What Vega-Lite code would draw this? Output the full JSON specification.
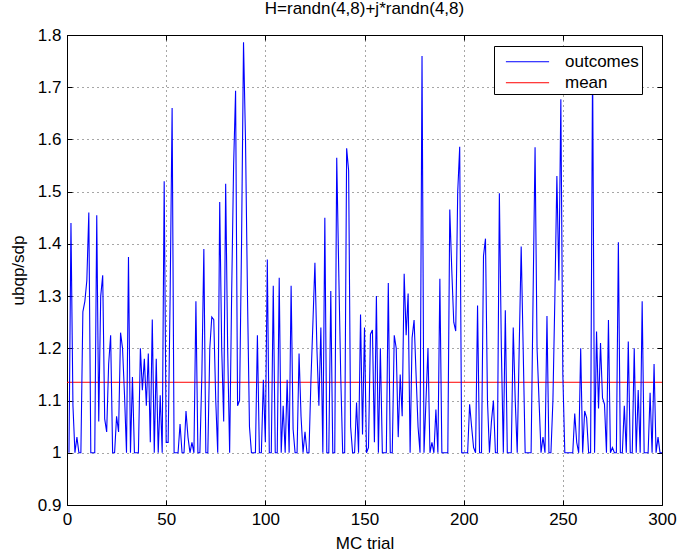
{
  "$schema": "https://vega.github.io/schema/vega-lite/v6.json",
  "autosize": {"type": "none"},
  "padding": {"left": 67, "top": 35, "right": 19, "bottom": 53},
  "width": 595,
  "height": 470,
  "background": "white",
  "title": {"text": "H=randn(4,8)+j*randn(4,8)", "font": "Liberation Sans", "fontSize": 17, "fontWeight": "normal", "color": "black", "offset": 8},
  "datasets": {
    "trials": [
      {"trial": 1, "ratio": 1.0}, {"trial": 2, "ratio": 1.44}, {"trial": 3, "ratio": 1.09}, {"trial": 4, "ratio": 1.0}, {"trial": 5, "ratio": 1.03},
      {"trial": 6, "ratio": 1.0}, {"trial": 7, "ratio": 1.0}, {"trial": 8, "ratio": 1.27}, {"trial": 9, "ratio": 1.29}, {"trial": 10, "ratio": 1.33},
      {"trial": 11, "ratio": 1.46}, {"trial": 12, "ratio": 1.0}, {"trial": 13, "ratio": 1.0}, {"trial": 14, "ratio": 1.0}, {"trial": 15, "ratio": 1.455},
      {"trial": 16, "ratio": 1.06}, {"trial": 17, "ratio": 1.3}, {"trial": 18, "ratio": 1.34}, {"trial": 19, "ratio": 1.065}, {"trial": 20, "ratio": 1.04},
      {"trial": 21, "ratio": 1.17}, {"trial": 22, "ratio": 1.225}, {"trial": 23, "ratio": 1.0}, {"trial": 24, "ratio": 1.0}, {"trial": 25, "ratio": 1.07},
      {"trial": 26, "ratio": 1.04}, {"trial": 27, "ratio": 1.23}, {"trial": 28, "ratio": 1.2}, {"trial": 29, "ratio": 1.11}, {"trial": 30, "ratio": 1.0},
      {"trial": 31, "ratio": 1.375}, {"trial": 32, "ratio": 1.0}, {"trial": 33, "ratio": 1.145}, {"trial": 34, "ratio": 1.0}, {"trial": 35, "ratio": 1.0},
      {"trial": 36, "ratio": 1.0}, {"trial": 37, "ratio": 1.2}, {"trial": 38, "ratio": 1.12}, {"trial": 39, "ratio": 1.18}, {"trial": 40, "ratio": 1.09},
      {"trial": 41, "ratio": 1.19}, {"trial": 42, "ratio": 1.02}, {"trial": 43, "ratio": 1.255}, {"trial": 44, "ratio": 1.0}, {"trial": 45, "ratio": 1.18},
      {"trial": 46, "ratio": 1.0}, {"trial": 47, "ratio": 1.11}, {"trial": 48, "ratio": 1.0}, {"trial": 49, "ratio": 1.52}, {"trial": 50, "ratio": 1.02},
      {"trial": 51, "ratio": 1.02}, {"trial": 52, "ratio": 1.3}, {"trial": 53, "ratio": 1.66}, {"trial": 54, "ratio": 1.0}, {"trial": 55, "ratio": 1.0},
      {"trial": 56, "ratio": 1.0}, {"trial": 57, "ratio": 1.055}, {"trial": 58, "ratio": 1.0}, {"trial": 59, "ratio": 1.0}, {"trial": 60, "ratio": 1.08},
      {"trial": 61, "ratio": 1.03}, {"trial": 62, "ratio": 1.0}, {"trial": 63, "ratio": 1.02}, {"trial": 64, "ratio": 1.0}, {"trial": 65, "ratio": 1.29},
      {"trial": 66, "ratio": 1.0}, {"trial": 67, "ratio": 1.0}, {"trial": 68, "ratio": 1.15}, {"trial": 69, "ratio": 1.39}, {"trial": 70, "ratio": 1.0},
      {"trial": 71, "ratio": 1.0}, {"trial": 72, "ratio": 1.2}, {"trial": 73, "ratio": 1.26}, {"trial": 74, "ratio": 1.255}, {"trial": 75, "ratio": 1.1},
      {"trial": 76, "ratio": 1.0}, {"trial": 77, "ratio": 1.48}, {"trial": 78, "ratio": 1.2}, {"trial": 79, "ratio": 1.06}, {"trial": 80, "ratio": 1.515},
      {"trial": 81, "ratio": 1.2}, {"trial": 82, "ratio": 1.0}, {"trial": 83, "ratio": 1.3}, {"trial": 84, "ratio": 1.55}, {"trial": 85, "ratio": 1.693},
      {"trial": 86, "ratio": 1.09}, {"trial": 87, "ratio": 1.1}, {"trial": 88, "ratio": 1.4}, {"trial": 89, "ratio": 1.786}, {"trial": 90, "ratio": 1.6},
      {"trial": 91, "ratio": 1.3}, {"trial": 92, "ratio": 1.05}, {"trial": 93, "ratio": 1.0}, {"trial": 94, "ratio": 1.0}, {"trial": 95, "ratio": 1.0},
      {"trial": 96, "ratio": 1.225}, {"trial": 97, "ratio": 1.0}, {"trial": 98, "ratio": 1.0}, {"trial": 99, "ratio": 1.14}, {"trial": 100, "ratio": 1.02},
      {"trial": 101, "ratio": 1.37}, {"trial": 102, "ratio": 1.0}, {"trial": 103, "ratio": 1.0}, {"trial": 104, "ratio": 1.32}, {"trial": 105, "ratio": 1.0},
      {"trial": 106, "ratio": 1.0}, {"trial": 107, "ratio": 1.335}, {"trial": 108, "ratio": 1.0}, {"trial": 109, "ratio": 1.09}, {"trial": 110, "ratio": 1.0},
      {"trial": 111, "ratio": 1.14}, {"trial": 112, "ratio": 1.0}, {"trial": 113, "ratio": 1.32}, {"trial": 114, "ratio": 1.045}, {"trial": 115, "ratio": 1.0},
      {"trial": 116, "ratio": 1.0}, {"trial": 117, "ratio": 1.19}, {"trial": 118, "ratio": 1.07}, {"trial": 119, "ratio": 1.0}, {"trial": 120, "ratio": 1.04},
      {"trial": 121, "ratio": 1.0}, {"trial": 122, "ratio": 1.0}, {"trial": 123, "ratio": 1.14}, {"trial": 124, "ratio": 1.25}, {"trial": 125, "ratio": 1.364},
      {"trial": 126, "ratio": 1.2}, {"trial": 127, "ratio": 1.09}, {"trial": 128, "ratio": 1.24}, {"trial": 129, "ratio": 1.0}, {"trial": 130, "ratio": 1.45},
      {"trial": 131, "ratio": 1.0}, {"trial": 132, "ratio": 1.0}, {"trial": 133, "ratio": 1.31}, {"trial": 134, "ratio": 1.0}, {"trial": 135, "ratio": 1.0},
      {"trial": 136, "ratio": 1.565}, {"trial": 137, "ratio": 1.35}, {"trial": 138, "ratio": 1.15}, {"trial": 139, "ratio": 1.0}, {"trial": 140, "ratio": 1.0},
      {"trial": 141, "ratio": 1.583}, {"trial": 142, "ratio": 1.54}, {"trial": 143, "ratio": 1.05}, {"trial": 144, "ratio": 1.0}, {"trial": 145, "ratio": 1.0},
      {"trial": 146, "ratio": 1.096}, {"trial": 147, "ratio": 1.0}, {"trial": 148, "ratio": 1.265}, {"trial": 149, "ratio": 1.035}, {"trial": 150, "ratio": 1.24},
      {"trial": 151, "ratio": 1.0}, {"trial": 152, "ratio": 1.01}, {"trial": 153, "ratio": 1.227}, {"trial": 154, "ratio": 1.235}, {"trial": 155, "ratio": 1.02},
      {"trial": 156, "ratio": 1.3}, {"trial": 157, "ratio": 1.0}, {"trial": 158, "ratio": 1.2}, {"trial": 159, "ratio": 1.0}, {"trial": 160, "ratio": 1.0},
      {"trial": 161, "ratio": 1.0}, {"trial": 162, "ratio": 1.325}, {"trial": 163, "ratio": 1.0}, {"trial": 164, "ratio": 1.0}, {"trial": 165, "ratio": 1.225},
      {"trial": 166, "ratio": 1.2}, {"trial": 167, "ratio": 1.03}, {"trial": 168, "ratio": 1.15}, {"trial": 169, "ratio": 1.07}, {"trial": 170, "ratio": 1.343},
      {"trial": 171, "ratio": 1.225}, {"trial": 172, "ratio": 1.305}, {"trial": 173, "ratio": 1.0}, {"trial": 174, "ratio": 1.22}, {"trial": 175, "ratio": 1.254},
      {"trial": 176, "ratio": 1.15}, {"trial": 177, "ratio": 1.05}, {"trial": 178, "ratio": 1.0}, {"trial": 179, "ratio": 1.76}, {"trial": 180, "ratio": 1.0},
      {"trial": 181, "ratio": 1.1}, {"trial": 182, "ratio": 1.2}, {"trial": 183, "ratio": 1.0}, {"trial": 184, "ratio": 1.02}, {"trial": 185, "ratio": 1.0},
      {"trial": 186, "ratio": 1.083}, {"trial": 187, "ratio": 1.0}, {"trial": 188, "ratio": 1.333}, {"trial": 189, "ratio": 1.0}, {"trial": 190, "ratio": 1.0},
      {"trial": 191, "ratio": 1.0}, {"trial": 192, "ratio": 1.0}, {"trial": 193, "ratio": 1.466}, {"trial": 194, "ratio": 1.35}, {"trial": 195, "ratio": 1.25},
      {"trial": 196, "ratio": 1.233}, {"trial": 197, "ratio": 1.5}, {"trial": 198, "ratio": 1.586}, {"trial": 199, "ratio": 1.0}, {"trial": 200, "ratio": 1.0},
      {"trial": 201, "ratio": 1.0}, {"trial": 202, "ratio": 1.0}, {"trial": 203, "ratio": 1.093}, {"trial": 204, "ratio": 1.05}, {"trial": 205, "ratio": 1.01},
      {"trial": 206, "ratio": 1.0}, {"trial": 207, "ratio": 1.282}, {"trial": 208, "ratio": 1.0}, {"trial": 209, "ratio": 1.0}, {"trial": 210, "ratio": 1.377},
      {"trial": 211, "ratio": 1.41}, {"trial": 212, "ratio": 1.1}, {"trial": 213, "ratio": 1.0}, {"trial": 214, "ratio": 1.06}, {"trial": 215, "ratio": 1.1},
      {"trial": 216, "ratio": 1.0}, {"trial": 217, "ratio": 1.0}, {"trial": 218, "ratio": 1.497}, {"trial": 219, "ratio": 1.2}, {"trial": 220, "ratio": 1.0},
      {"trial": 221, "ratio": 1.273}, {"trial": 222, "ratio": 1.0}, {"trial": 223, "ratio": 1.0}, {"trial": 224, "ratio": 1.0}, {"trial": 225, "ratio": 1.24},
      {"trial": 226, "ratio": 1.1}, {"trial": 227, "ratio": 1.0}, {"trial": 228, "ratio": 1.2}, {"trial": 229, "ratio": 1.395}, {"trial": 230, "ratio": 1.2},
      {"trial": 231, "ratio": 1.0}, {"trial": 232, "ratio": 1.0}, {"trial": 233, "ratio": 1.0}, {"trial": 234, "ratio": 1.0}, {"trial": 235, "ratio": 1.3},
      {"trial": 236, "ratio": 1.585}, {"trial": 237, "ratio": 1.2}, {"trial": 238, "ratio": 1.1}, {"trial": 239, "ratio": 1.0}, {"trial": 240, "ratio": 1.03},
      {"trial": 241, "ratio": 1.0}, {"trial": 242, "ratio": 1.262}, {"trial": 243, "ratio": 1.0}, {"trial": 244, "ratio": 1.0}, {"trial": 245, "ratio": 1.1},
      {"trial": 246, "ratio": 1.3}, {"trial": 247, "ratio": 1.53}, {"trial": 248, "ratio": 1.33}, {"trial": 249, "ratio": 1.677}, {"trial": 250, "ratio": 1.15},
      {"trial": 251, "ratio": 1.0}, {"trial": 252, "ratio": 1.0}, {"trial": 253, "ratio": 1.0}, {"trial": 254, "ratio": 1.0}, {"trial": 255, "ratio": 1.0},
      {"trial": 256, "ratio": 1.075}, {"trial": 257, "ratio": 1.02}, {"trial": 258, "ratio": 1.0}, {"trial": 259, "ratio": 1.2}, {"trial": 260, "ratio": 1.0},
      {"trial": 261, "ratio": 1.08}, {"trial": 262, "ratio": 1.067}, {"trial": 263, "ratio": 1.0}, {"trial": 264, "ratio": 1.0}, {"trial": 265, "ratio": 1.75},
      {"trial": 266, "ratio": 1.0}, {"trial": 267, "ratio": 1.232}, {"trial": 268, "ratio": 1.085}, {"trial": 269, "ratio": 1.21}, {"trial": 270, "ratio": 1.105},
      {"trial": 271, "ratio": 1.093}, {"trial": 272, "ratio": 1.0}, {"trial": 273, "ratio": 1.254}, {"trial": 274, "ratio": 1.0}, {"trial": 275, "ratio": 1.01},
      {"trial": 276, "ratio": 1.0}, {"trial": 277, "ratio": 1.0}, {"trial": 278, "ratio": 1.403}, {"trial": 279, "ratio": 1.0}, {"trial": 280, "ratio": 1.0},
      {"trial": 281, "ratio": 1.09}, {"trial": 282, "ratio": 1.0}, {"trial": 283, "ratio": 1.213}, {"trial": 284, "ratio": 1.0}, {"trial": 285, "ratio": 1.0},
      {"trial": 286, "ratio": 1.2}, {"trial": 287, "ratio": 1.0}, {"trial": 288, "ratio": 1.12}, {"trial": 289, "ratio": 1.0}, {"trial": 290, "ratio": 1.29},
      {"trial": 291, "ratio": 1.0}, {"trial": 292, "ratio": 1.0}, {"trial": 293, "ratio": 1.0}, {"trial": 294, "ratio": 1.115}, {"trial": 295, "ratio": 1.0},
      {"trial": 296, "ratio": 1.17}, {"trial": 297, "ratio": 1.0}, {"trial": 298, "ratio": 1.03}, {"trial": 299, "ratio": 1.0}, {"trial": 300, "ratio": 1.0}
    ],
    "average": [{"mean": 1.135}]
  },
  "layer": [
    {
      "data": {"name": "average"},
      "mark": {"type": "rule", "strokeWidth": 1},
      "encoding": {
        "y": {"field": "mean", "type": "quantitative", "scale": {"domain": [0.9, 1.8], "nice": false, "zero": false}, "axis": null},
        "color": {"datum": "mean", "type": "nominal",
                  "scale": {"domain": ["outcomes", "mean"], "range": ["#0000ff", "#ff0000"]},
                  "legend": {"title": null, "orient": "none", "legendX": 427, "legendY": 11,
                             "encode": {"symbols": {"update": {"stroke": {"signal": "scale('color', datum.value)"}, "fill": {"value": "transparent"}, "opacity": {"value": 1}}}}}}
      }
    },
    {
      "data": {"name": "trials"},
      "mark": {"type": "line", "strokeWidth": 1.1, "clip": true},
      "encoding": {
        "x": {"field": "trial", "type": "quantitative", "scale": {"domain": [0, 300], "nice": false},
              "axis": {"orient": "bottom", "values": [0, 50, 100, 150, 200, 250, 300], "title": "MC trial", "grid": true}},
        "y": {"field": "ratio", "type": "quantitative",
              "axis": {"orient": "left", "values": [0.9, 1.0, 1.1, 1.2, 1.3, 1.4, 1.5, 1.6, 1.7, 1.8], "format": "~g", "title": "ubqp/sdp", "grid": true}},
        "color": {"datum": "outcomes", "type": "nominal"}
      }
    },
    {
      "data": {"name": "trials"},
      "mark": {"type": "line", "opacity": 0},
      "encoding": {
        "x": {"field": "trial", "type": "quantitative",
              "axis": {"orient": "top", "values": [0, 50, 100, 150, 200, 250, 300], "labels": false, "title": null, "grid": false}},
        "y": {"field": "ratio", "type": "quantitative",
              "axis": {"orient": "right", "values": [0.9, 1.0, 1.1, 1.2, 1.3, 1.4, 1.5, 1.6, 1.7, 1.8], "labels": false, "title": null, "grid": false}}
      }
    }
  ],
  "resolve": {"axis": {"x": "independent", "y": "independent"}},
  "config": {
    "view": {"stroke": "black", "strokeWidth": 1},
    "axis": {
      "domain": false,
      "labelFlush": false,
      "tickColor": "black",
      "tickSize": -5,
      "labelPadding": 11,
      "labelFont": "Liberation Sans",
      "labelFontSize": 17,
      "labelColor": "black",
      "titleFont": "Liberation Sans",
      "titleFontSize": 17,
      "titleFontWeight": "normal",
      "titleColor": "black",
      "gridColor": "black",
      "gridDash": [1, 4],
      "gridOpacity": 0.7
    },
    "axisX": {"titlePadding": 8},
    "axisY": {"titlePadding": 10},
    "legend": {
      "symbolType": "M-1.8,0.02H1.8",
      "symbolSize": 576,
      "symbolStrokeWidth": 1,
      "symbolOffset": 18,
      "labelOffset": 25,
      "labelFont": "Liberation Sans",
      "labelFontSize": 17,
      "labelColor": "black",
      "fillColor": "white",
      "strokeColor": "black",
      "padding": 3,
      "rowPadding": 0
    }
  }
}
